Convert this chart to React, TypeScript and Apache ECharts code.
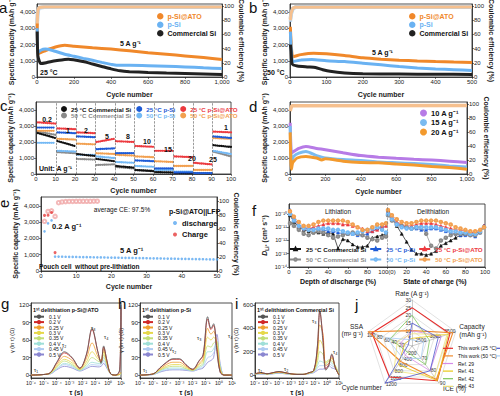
import React, { useEffect, useRef } from "react";
import * as echarts from "echarts";

const FONT = "'Liberation Sans', Arial, Helvetica, sans-serif";

// ---------------- panel a : 25 °C, 5 A g-1 ----------------
const aATO = [[1, 3300], [5, 1450], [20, 1500], [50, 1650], [100, 1850], [150, 1950], [200, 1900], [300, 1800], [400, 1720], [500, 1620], [600, 1500], [700, 1400], [800, 1300], [900, 1200], [1000, 1080]];
const aPSi = [[1, 3000], [5, 1500], [20, 1650], [45, 1720], [80, 1650], [150, 1400], [200, 1280], [250, 1150], [300, 1030], [350, 900], [400, 780], [430, 720], [500, 720], [600, 700], [700, 660], [800, 620], [900, 570], [1000, 520]];
const aCom = [[1, 2800], [5, 1300], [20, 830], [50, 880], [100, 1000], [150, 1080], [170, 1100], [250, 950], [300, 800], [350, 650], [400, 500], [450, 380], [500, 330], [600, 280], [700, 240], [800, 210], [900, 180], [1000, 150]];
const aCEATO = [[1, 72], [3, 88], [6, 95], [12, 98], [40, 98.6], [1000, 98.8]];
const aCEPSi = [[1, 68], [3, 85], [6, 93], [12, 97.5], [40, 98.5], [1000, 98.7]];
const aCECom = [[1, 75], [3, 90], [6, 96], [12, 98.2], [40, 98.6], [1000, 98.9]];

// ---------------- panel b : 50 °C, 5 A g-1 ----------------
const bATO = [[1, 3100], [3, 2200], [8, 1250], [30, 1380], [65, 1470], [100, 1430], [150, 1320], [200, 1180], [250, 1100], [300, 1040], [350, 990], [400, 950], [450, 920], [500, 900]];
const bPSi = [[1, 2800], [3, 1900], [8, 950], [30, 1050], [60, 1080], [100, 1000], [150, 950], [200, 850], [250, 750], [300, 650], [350, 560], [400, 500], [450, 450], [500, 400]];
const bCom = [[1, 2000], [3, 1600], [6, 800], [20, 680], [50, 620], [70, 580], [90, 450], [110, 350], [150, 250], [200, 200], [300, 180], [400, 170], [500, 160]];
const bCEATO = [[1, 80], [3, 90], [8, 97], [15, 98.5], [500, 98.8]];
const bCEPSi = [[1, 78], [3, 88], [8, 96], [15, 98.3], [500, 98.6]];
const bCECom = [[1, 82], [3, 91], [8, 97], [15, 98.6], [500, 98.9]];

// ---------------- panel c : rate capability ----------------
const cSegStart = [1, 11, 21, 31, 41, 51, 61, 71, 81, 91];
const cRates = ["0.2", "1", "2", "5", "8", "10", "15", "20", "25", "1"];
const c25Com = [[2560, 2250], [2060, 1750], [1250, 1130], [940, 800], [500, 400], [250, 180], [120, 90], [60, 40], [30, 20], [1800, 1690]];
const c50Com = [[2650, 2450], [1370, 1300], [940, 900], [560, 600], [440, 350], [250, 200], [100, 90], [50, 40], [30, 20], [1400, 1100]];
const c25PSi = [[2900, 2900], [2600, 2550], [2350, 2300], [1550, 1600], [1300, 1300], [850, 800], [350, 350], [100, 100], [50, 50], [2350, 2250]];
const c50PSi = [[1950, 1950], [1450, 1400], [1200, 1200], [1100, 1000], [750, 700], [500, 450], [250, 250], [150, 150], [50, 50], [1450, 1250]];
const c25ATO = [[3230, 3150], [2850, 2800], [2600, 2550], [2000, 2200], [2050, 2000], [1750, 1700], [1450, 1450], [1100, 1050], [700, 600], [2650, 2600]];
const c50ATO = [[2700, 2700], [2200, 2150], [1900, 1850], [1300, 1250], [1200, 1150], [1100, 1050], [800, 750], [500, 500], [250, 250], [2250, 2200]];

// ---------------- panel d : high rate, 1000 cycles ----------------
const d10 = [[1, 3200], [3, 2400], [8, 1300], [20, 1400], [50, 1600], [90, 1720], [150, 1600], [200, 1520], [300, 1330], [400, 1150], [500, 1050], [600, 980], [700, 920], [800, 870], [900, 800], [1000, 720]];
const d15 = [[1, 3000], [3, 2000], [8, 800], [20, 1100], [50, 1300], [90, 1400], [150, 1150], [200, 1000], [300, 900], [400, 850], [500, 750], [600, 700], [700, 650], [800, 600], [900, 500], [1000, 430]];
const d20 = [[1, 2600], [3, 1500], [8, 300], [15, 700], [40, 1000], [90, 1100], [150, 1000], [180, 880], [200, 950], [300, 800], [400, 720], [500, 700], [600, 620], [700, 560], [800, 470], [900, 400], [1000, 300]];
const dCE = [[1, 90], [4, 93], [10, 97.5], [1000, 98]];

// ---------------- panel e : pouch full cell ----------------
const eDis = [2440, 2930, 3110, 885, 884, 879, 876, 871, 868, 863, 860, 855, 852, 848, 845, 840, 836, 833, 829, 824, 821, 817, 813, 810, 805, 802, 798, 794, 791, 786, 783, 779, 775, 771, 768, 763, 760, 756, 752, 749, 744, 741, 737, 733, 730, 725, 722, 718, 714, 710];
const eCha = [3420, 3430, 3600, 1130];
const eCE = [71, 85, 86, 78, 97.5, 98.6, 99.1, 99.3, 99.4, 99.5, 99.5, 99.6, 99.6, 99.6, 99.7, 99.7];

// ---------------- panel f : GITT diffusion coefficient (log10) ----------------
const fPos = [1, 5, 10, 15, 20, 25, 30, 35, 40, 45, 50, 55, 60, 65, 70, 75, 80, 85, 90, 95, 99];
const fLith = {
  c25: [-10.1, -10.6, -11.0, -11.2, -11.3, -11.4, -11.4, -11.5, -11.4, -11.5, -12.6, -11.9, -12.0, -12.3, -12.5, -12.5, -12.4, -11.8, -11.7, -11.6, -11.5],
  c50: [-10.7, -10.9, -11.2, -11.5, -11.6, -11.4, -11.3, -11.4, -11.6, -11.8, -11.7, -11.6, -11.5, -11.4, -11.5, -11.6, -11.8, -11.9, -12.0, -11.8, -11.7],
  p25: [-9.7, -10.3, -10.8, -11.0, -11.1, -11.1, -11.2, -11.2, -11.3, -11.3, -11.4, -11.5, -11.5, -11.5, -11.6, -11.6, -11.5, -11.3, -11.1, -10.9, -10.7],
  p50: [-10.0, -10.5, -10.9, -11.1, -11.2, -11.2, -11.1, -11.1, -11.1, -11.2, -11.2, -11.3, -11.4, -11.5, -11.4, -11.3, -11.2, -11.1, -11.0, -11.2, -11.4],
  a25: [-9.8, -10.4, -10.9, -11.1, -11.1, -11.0, -10.9, -10.8, -10.7, -10.7, -10.7, -10.8, -10.8, -10.9, -11.0, -11.1, -11.3, -11.3, -11.2, -11.0, -10.9],
  a50: [-9.8, -10.2, -10.6, -10.9, -10.9, -10.8, -10.6, -10.5, -10.5, -10.5, -10.5, -10.5, -10.6, -10.8, -11.0, -11.2, -11.2, -11.0, -10.8, -10.8, -10.7],
};
const fDeli = {
  c25: [-9.7, -10.3, -10.9, -11.5, -12.1, -12.7, -13.0, -13.0, -13.1, -13.0, -12.8, -12.4, -12.2, -12.0, -11.8, -11.6, -11.5, -11.4, -11.5, -11.3, -10.9],
  c50: [-10.1, -10.5, -10.8, -10.9, -11.0, -11.1, -11.0, -11.0, -11.5, -12.4, -12.6, -12.0, -11.8, -11.6, -11.5, -11.5, -11.5, -11.6, -11.6, -11.4, -11.0],
  p25: [-9.8, -10.3, -10.7, -10.9, -11.0, -11.1, -11.1, -11.2, -11.2, -11.1, -11.1, -11.2, -11.3, -11.4, -11.5, -11.6, -11.6, -11.6, -11.7, -11.4, -10.9],
  p50: [-10.0, -10.4, -10.8, -11.0, -11.1, -11.1, -11.0, -11.0, -11.0, -11.0, -11.0, -11.1, -11.2, -11.3, -11.3, -11.4, -11.4, -11.5, -11.5, -11.3, -11.0],
  a25: [-9.8, -10.2, -10.6, -10.8, -10.9, -10.9, -10.8, -10.7, -10.7, -10.7, -10.8, -10.9, -11.0, -11.1, -11.2, -11.2, -11.3, -11.4, -11.4, -11.2, -10.9],
  a50: [-9.7, -10.1, -10.4, -10.6, -10.7, -10.7, -10.6, -10.5, -10.5, -10.5, -10.5, -10.6, -10.7, -10.8, -11.0, -11.1, -11.2, -11.3, -11.3, -11.2, -11.0],
};
const fTicks = [-14, -13, -12, -11, -10];

// ---------------- panels g, h, i : DRT (x = log10 tau) ----------------
const voltages = ["0.1 V", "0.2 V", "0.25 V", "0.3 V", "0.35 V", "0.4 V", "0.45 V", "0.5 V"];
const gX = [-6, -5, -4.5, -4, -3.4, -2.8, -2.2, -1.7, -1.25, -0.8, -0.55, -0.35, -0.1, 0.2, 0.6, 0.9, 1.0];
const gY = [
  [0, 1, 4, 22, 40, 30, 12, 35, 80, 40, 20, 50, 25, 2, 0, 10, 120],
  [0, 1, 4, 21, 38, 29, 12, 34, 78, 40, 22, 48, 26, 2, 0, 8, 116],
  [0, 1, 4, 18, 32, 25, 11, 28, 55, 32, 25, 45, 22, 2, 0, 2, 5],
  [0, 1, 3, 15, 27, 21, 10, 22, 40, 28, 25, 40, 20, 2, 0, 1, 3],
  [0, 1, 3, 13, 24, 18, 9, 18, 30, 24, 22, 35, 18, 2, 0, 1, 2],
  [0, 1, 3, 11, 20, 16, 8, 15, 22, 20, 20, 30, 16, 2, 0, 1, 2],
  [0, 1, 2, 10, 18, 14, 8, 13, 18, 17, 18, 25, 14, 2, 0, 1, 2],
  [0, 1, 2, 9, 15, 12, 7, 11, 15, 14, 15, 20, 12, 2, 0, 1, 2],
];
const hX = [-6, -5, -4.5, -4, -3.5, -3, -2.5, -2, -1.5, -1.2, -0.85, -0.6, -0.4, -0.15, 0.1, 0.4, 0.7, 1.0];
const hY = [
  [0, 2, 12, 22, 28, 28, 18, 10, 25, 35, 100, 80, 88, 40, 5, 0, 0, 0],
  [0, 2, 12, 21, 27, 27, 17, 10, 24, 34, 96, 78, 85, 45, 5, 0, 0, 0],
  [0, 2, 10, 18, 22, 22, 15, 9, 20, 28, 80, 70, 75, 50, 8, 0, 0, 0],
  [0, 2, 9, 15, 18, 18, 13, 9, 18, 24, 65, 60, 65, 55, 10, 0, 0, 0],
  [0, 2, 8, 13, 15, 15, 11, 8, 15, 20, 50, 48, 55, 58, 12, 0, 0, 0],
  [0, 1, 7, 11, 12, 12, 10, 8, 13, 17, 40, 40, 45, 55, 15, 0, 0, 0],
  [0, 1, 6, 9, 10, 10, 9, 7, 11, 14, 30, 32, 38, 50, 18, 0, 0, 0],
  [0, 1, 5, 8, 9, 9, 8, 7, 10, 12, 22, 25, 30, 70, 20, 0, 0, 0],
];
const iX = [-6, -5.5, -5, -4.5, -4, -3.5, -3, -2.5, -2, -1.5, -1.1, -0.8, -0.6, -0.35, -0.1, 0.15, 0.4, 0.7, 1.0];
const iY = [
  [10, 20, 10, 20, 30, 20, 10, 5, 5, 20, 40, 250, 560, 300, 40, 80, 180, 60, 0],
  [10, 20, 10, 20, 28, 20, 10, 5, 5, 20, 40, 240, 540, 340, 50, 90, 170, 60, 0],
  [10, 18, 10, 18, 26, 18, 10, 5, 5, 18, 38, 200, 430, 360, 80, 100, 150, 60, 0],
  [8, 15, 9, 16, 24, 16, 9, 5, 5, 16, 35, 150, 300, 250, 100, 120, 140, 70, 0],
  [8, 14, 8, 15, 22, 15, 8, 5, 5, 15, 32, 110, 200, 180, 110, 130, 120, 80, 0],
  [6, 12, 7, 13, 20, 13, 7, 5, 5, 13, 28, 80, 120, 110, 90, 120, 100, 70, 0],
  [6, 10, 6, 12, 18, 12, 6, 5, 5, 12, 25, 60, 80, 80, 80, 100, 80, 60, 0],
  [5, 8, 5, 10, 15, 10, 5, 5, 5, 10, 20, 40, 50, 50, 60, 80, 60, 50, 0],
];

// ---------------- panel j : radar comparison ----------------
const radarAxes = ["Rate (A g⁻¹)", "SSA\n(m² g⁻¹)", "Cycle number", "ICE (%)", "Capacity\n(mAh g⁻¹)"];
const radarMin = [0, 0, 0, 60, 2000];
const radarMax = [30, 120, 1200, 90, 3500];
const radarNames = ["This work (25 °C)", "This work (50 °C)", "Ref. 29", "Ref. 41", "Ref. 42", "Ref. 43", "Ref. 44", "Ref. 45"];
const radarValues = [
  [25, 110, 1000, 88, 3300],
  [10, 120, 500, 87, 3400],
  [10, 30, 300, 80, 3000],
  [5, 20, 600, 88, 3250],
  [20, 60, 200, 75, 2600],
  [8, 40, 800, 85, 3200],
  [15, 10, 1200, 80, 2900],
  [4, 70, 400, 70, 2400],
];

// ---------------- colours ----------------
const C_ATO = "#F0882A", C_PSI = "#6AB2F2", C_COM = "#222222";
const CE_ATO = "#F6C08E", CE_PSI = "#B9DAF7", CE_COM = "#AFAFAF";
const C6 = { c25: "#111111", c50: "#8A8A8A", p25: "#1E5BD6", p50: "#74B9F5", a25: "#EC3A3F", a50: "#F2A050" };
const VCOL = ["#555555", "#D02828", "#F0A030", "#E6D84A", "#C2DE76", "#9FDFD8", "#AFCBF2", "#8A86D0"];
const RCOL = ["#E52B2B", "#F08A2C", "#D58BE8", "#E8C817", "#7CC65A", "#F0E27A", "#4D55CF", "#A8CCF2"];

const LABEL6: Record<string, string> = {
  c25: "25 °C Commercial Si", p25: "25 °C p-Si", a25: "25 °C p-Si@ATO",
  c50: "50 °C Commercial Si", p50: "50 °C p-Si", a50: "50 °C p-Si@ATO",
};

const SUP: Record<string, string> = { "-": "⁻", "0": "⁰", "1": "¹", "2": "²", "3": "³", "4": "⁴", "5": "⁵", "6": "⁶", "7": "⁷", "8": "⁸", "9": "⁹" };
const sup = (n: number) => String(n).split("").map((c) => SUP[c] ?? c).join("");

const AX = "#222";

function axisBase(fs = 6) {
  return {
    axisLine: { show: true, onZero: false, lineStyle: { color: AX, width: 0.8 } },
    axisTick: { show: true, length: 2, lineStyle: { color: AX, width: 0.6 } },
    axisLabel: { fontSize: fs, color: AX, margin: 2, fontFamily: FONT } as any,
    splitLine: { show: false },
    nameTextStyle: { fontSize: 7, fontWeight: "bold", color: AX, fontFamily: FONT } as any,
    nameLocation: "middle",
  };
}

function xA(gridIndex: number, min: number, max: number, interval: number, name: string, nameGap: number, lab: any = {}) {
  const b = axisBase(lab.fontSize ?? 6);
  return { ...b, type: "value", gridIndex, min, max, interval, name, nameGap, axisLabel: { ...b.axisLabel, ...lab } };
}

function yA(gridIndex: number, min: number, max: number, ticks: number[], name: string, nameGap: number, extra: any = {}) {
  const b = axisBase(6);
  return {
    ...b, type: "value", gridIndex, min, max, name, nameGap,
    position: extra.position ?? "left",
    nameRotate: extra.nameRotate,
    axisLabel: { ...b.axisLabel, customValues: ticks, ...(extra.lab ?? {}) },
    axisTick: { ...b.axisTick, customValues: ticks },
    nameTextStyle: { ...b.nameTextStyle, ...(extra.nameStyle ?? {}) },
  };
}

function ln(name: string, data: any[], color: string, xi: number, yi: number, o: any = {}) {
  return {
    type: "line", name, data, xAxisIndex: xi, yAxisIndex: yi,
    showSymbol: !!o.symbol, symbol: o.symbol ?? "circle", symbolSize: o.symbolSize ?? 3,
    lineStyle: { color, width: o.width ?? 1, type: o.dash ?? "solid", cap: o.cap ?? "butt" },
    itemStyle: { color, borderColor: color, borderWidth: 0.6 },
    smooth: o.smooth ?? false, z: o.z ?? 2, silent: true, connectNulls: false,
    markLine: o.markLine,
  };
}

function T(text: string, x: number, y: number, size = 7, o: any = {}) {
  return {
    type: "text", x, y, silent: true, rotation: o.rot ?? 0, z: 100,
    style: {
      text, fontSize: size, fontFamily: FONT, fill: o.color ?? "#111",
      fontWeight: o.bold ? "bold" : "normal", fontStyle: o.italic ? "italic" : "normal",
      align: o.align ?? "left", verticalAlign: "middle",
    },
  };
}

function buildOption(): any {
  const grids = [
    { left: 37, top: 4, width: 185, height: 73 }, // a
    { left: 290, top: 4, width: 182, height: 73 }, // b
    { left: 36, top: 102, width: 195, height: 72 }, // c
    { left: 290, top: 102, width: 177, height: 72 }, // d
    { left: 41, top: 197, width: 176, height: 74 }, // e
    { left: 289, top: 204, width: 196, height: 63 }, // f
    { left: 31, top: 303, width: 90, height: 75 }, // g
    { left: 140, top: 303, width: 92, height: 75 }, // h
    { left: 255, top: 303, width: 84, height: 75 }, // i
  ].map((g) => ({ ...g, show: true, borderColor: "#222", borderWidth: 0.8, backgroundColor: "transparent", containLabel: false, outerBoundsMode: "none" }));

  const capTicks = [0, 1000, 2000, 3000, 4000];
  const ceTicks = [0, 20, 40, 60, 80, 100];
  const capName = "Specific capacity (mAh g⁻¹)";
  const ceName = "Coulombic efficiency (%)";
  const logLab = { formatter: (v: number) => "10" + sup(v), fontSize: 5.2 };

  const xAxis = [
    xA(0, 0, 1000, 200, "Cycle number", 14),
    xA(1, 0, 500, 100, "Cycle number", 14),
    xA(2, 0, 100, 10, "Cycle number", 13),
    xA(3, 0, 1000, 200, "Cycle number", 14),
    xA(4, 0, 50, 10, "Cycle number", 12),
    xA(5, 0, 200, 20, "", 12, { formatter: (v: number) => (v < 100 ? String(v) : v === 100 ? "100(0)" : String(v - 100)) }),
    xA(6, -6, 1, 1, "τ (s)", 11, logLab),
    xA(7, -6, 1, 1, "τ (s)", 11, logLab),
    xA(8, -6, 1, 1, "τ (s)", 11, logLab),
  ];

  const yAxis = [
    yA(0, 0, 4500, capTicks, capName, 22),
    yA(0, 0, 103, ceTicks, ceName, 14, { position: "right", nameRotate: -90 }),
    yA(1, 0, 4500, capTicks, capName, 22),
    yA(1, 0, 103, ceTicks, ceName, 14, { position: "right", nameRotate: -90 }),
    yA(2, 0, 4500, capTicks, capName, 22),
    yA(3, 0, 4500, capTicks, capName, 22),
    yA(3, 0, 103, ceTicks, ceName, 14, { position: "right", nameRotate: -90 }),
    yA(4, 0, 4550, capTicks, capName, 22),
    yA(4, 0, 105.7, ceTicks, ceName, 14, { position: "right", nameRotate: -90 }),
    yA(5, -14, -9.25, fTicks, "{d|D}{s|Li⁺} (cm² s⁻¹)", 20, {
      lab: { formatter: (v: number) => "10" + sup(v), fontSize: 5.5 },
      nameStyle: { rich: { d: { fontSize: 7, fontStyle: "italic", fontWeight: "bold", fontFamily: FONT }, s: { fontSize: 5, fontWeight: "bold", fontFamily: FONT, padding: [4, 0, 0, 0] } } },
    }),
    yA(6, -5, 123.5, [0, 30, 60, 90, 120], "γ (ln τ) (Ω)", 12, { nameStyle: { fontSize: 5.5, fontWeight: "normal" } }),
    yA(7, -5, 123.5, [0, 30, 60, 90, 120], "γ (ln τ) (Ω)", 12, { nameStyle: { fontSize: 5.5, fontWeight: "normal" } }),
    yA(8, -26, 617, [0, 200, 400, 600], "γ (ln τ) (Ω)", 12, { nameStyle: { fontSize: 5.5, fontWeight: "normal" } }),
  ];

  const series: any[] = [];

  // a
  series.push(ln("CE com a", aCECom, CE_COM, 0, 1, { width: 3.5 }));
  series.push(ln("CE psi a", aCEPSi, CE_PSI, 0, 1, { width: 3.5 }));
  series.push(ln("CE ato a", aCEATO, CE_ATO, 0, 1, { width: 3 }));
  series.push(ln("p-Si@ATO", aATO, C_ATO, 0, 0, { width: 3, smooth: 0.2 }));
  series.push(ln("p-Si", aPSi, C_PSI, 0, 0, { width: 3, smooth: 0.2 }));
  series.push(ln("Commercial Si", aCom, C_COM, 0, 0, { width: 3, smooth: 0.2 }));
  // b
  series.push(ln("CE com b", bCECom, CE_COM, 1, 3, { width: 3.5 }));
  series.push(ln("CE psi b", bCEPSi, CE_PSI, 1, 3, { width: 3.5 }));
  series.push(ln("CE ato b", bCEATO, CE_ATO, 1, 3, { width: 3 }));
  series.push(ln("p-Si@ATO", bATO, C_ATO, 1, 2, { width: 3, smooth: 0.2 }));
  series.push(ln("p-Si", bPSi, C_PSI, 1, 2, { width: 3, smooth: 0.2 }));
  series.push(ln("Commercial Si", bCom, C_COM, 1, 2, { width: 3, smooth: 0.2 }));
  // c
  const segData = (segs: number[][]) =>
    segs.flatMap((s, k) => [[cSegStart[k], s[0]], [cSegStart[k] + 9, s[1]], [cSegStart[k] + 9.5, "-"]]);
  const cSets: [string, number[][]][] = [["c50", c50Com], ["p50", c50PSi], ["a50", c50ATO], ["c25", c25Com], ["p25", c25PSi], ["a25", c25ATO]];
  cSets.forEach(([k, segs], idx) => {
    series.push(ln("c_" + k, segData(segs), (C6 as any)[k], 2, 4, {
      width: 2.3, dash: [0.01, 1.94], cap: "round",
      markLine: idx === 0 ? {
        silent: true, symbol: ["none", "none"], label: { show: false },
        lineStyle: { type: "dashed", color: "#555", width: 0.6 },
        data: cSegStart.slice(1).map((s) => ({ xAxis: s - 0.5 })),
      } : undefined,
    }));
  });
  // d
  series.push(ln("CE d", dCE, CE_ATO, 3, 6, { width: 3.5 }));
  series.push(ln("10 A g⁻¹", d10, "#B77BE6", 3, 5, { width: 3, smooth: 0.2 }));
  series.push(ln("15 A g⁻¹", d15, "#7BBBF0", 3, 5, { width: 3, smooth: 0.2 }));
  series.push(ln("20 A g⁻¹", d20, "#F39A2E", 3, 5, { width: 3, smooth: 0.2 }));
  // e
  series.push({
    type: "scatter", name: "CE e", xAxisIndex: 4, yAxisIndex: 8, silent: true,
    data: eCE.map((v, i) => [i + 1, v]), symbol: "emptyCircle", symbolSize: 3.5,
    itemStyle: { color: "#F0A8A8", borderColor: "#E89A9A", borderWidth: 0.6 },
  });
  series.push({
    type: "scatter", name: "Charge", xAxisIndex: 4, yAxisIndex: 7, silent: true,
    data: eCha.map((v, i) => [i + 1, v]), symbol: "circle", symbolSize: 3, itemStyle: { color: "#E63C3C" },
  });
  series.push({
    type: "scatter", name: "discharge", xAxisIndex: 4, yAxisIndex: 7, silent: true,
    data: eDis.map((v, i) => [i + 1, v]), symbol: "circle", symbolSize: 2.6, itemStyle: { color: "#5AA8F0" },
  });
  // f
  (["c25", "p25", "a25", "c50", "p50", "a50"] as const).forEach((k, idx) => {
    const lith = fLith[k].map((v, i) => [fPos[i], v]);
    const deli = fDeli[k].map((v, i) => [100 + fPos[i], v]);
    const is25 = k.endsWith("25");
    series.push(ln("f_" + k, [...lith, [100, "-"], ...deli], (C6 as any)[k], 5, 9, {
      width: 0.7, symbol: is25 ? "triangle" : "emptyCircle", symbolSize: is25 ? 3 : 2.5,
      markLine: idx === 0 ? {
        silent: true, symbol: ["none", "none"], label: { show: false },
        lineStyle: { type: "dashed", color: "#777", width: 0.6 }, data: [{ xAxis: 100 }],
      } : undefined,
    }));
  });
  // g h i
  const drt = (X: number[], Y: number[][], xi: number, yi: number) =>
    Y.forEach((ys, k) => series.push(ln(voltages[k], ys.map((v, i) => [X[i], v]), VCOL[k], xi, yi, { width: 0.8, smooth: 0.35, z: 10 - k })));
  drt(gX, gY, 6, 10);
  drt(hX, hY, 7, 11);
  drt(iX, iY, 8, 12);
  // j
  series.push({
    type: "radar", radarIndex: 0, silent: true, symbol: "none",
    data: radarValues.map((v, k) => ({
      name: radarNames[k], value: v,
      lineStyle: { color: RCOL[k], width: k < 2 ? 1.1 : 0.8 }, itemStyle: { color: RCOL[k] },
    })),
  });

  const legBase = { selectedMode: false, padding: 0, textStyle: { fontFamily: FONT } };
  const legend = [
    {
      ...legBase, orient: "vertical", left: 157, top: 12, itemGap: 0, itemWidth: 4.5, itemHeight: 4.5, icon: "circle",
      textStyle: { fontSize: 7, fontWeight: "bold", lineHeight: 8.5, fontFamily: FONT },
      data: [{ name: "p-Si@ATO", textStyle: { color: C_ATO } }, { name: "p-Si", textStyle: { color: C_PSI } }, { name: "Commercial Si", textStyle: { color: "#111" } }],
    },
    {
      ...legBase, orient: "vertical", left: 409, top: 12, itemGap: 0, itemWidth: 4.5, itemHeight: 4.5, icon: "circle",
      textStyle: { fontSize: 7, fontWeight: "bold", lineHeight: 8.5, fontFamily: FONT },
      data: [{ name: "p-Si@ATO", textStyle: { color: C_ATO } }, { name: "p-Si", textStyle: { color: C_PSI } }, { name: "Commercial Si", textStyle: { color: "#111" } }],
    },
    ...[["c25", "p25", "a25"], ["c50", "p50", "a50"]].map((row, r) => ({
      ...legBase, orient: "horizontal", left: 61, top: 106 + r * 6.5, itemGap: 5, itemWidth: 4, itemHeight: 4, icon: "circle",
      textStyle: { fontSize: 6.2, fontWeight: "bold", lineHeight: 6, fontFamily: FONT },
      formatter: (n: string) => LABEL6[n.slice(2)],
      data: row.map((k) => ({ name: "c_" + k, textStyle: { color: (C6 as any)[k] } })),
    })),
    {
      ...legBase, orient: "vertical", left: 420, top: 109, itemGap: 1.5, itemWidth: 5, itemHeight: 5, icon: "circle",
      textStyle: { fontSize: 7.5, fontWeight: "bold", lineHeight: 8, color: "#111", fontFamily: FONT },
      data: ["10 A g⁻¹", "15 A g⁻¹", "20 A g⁻¹"],
    },
    {
      ...legBase, orient: "vertical", left: 173, top: 219, itemGap: 3.5, itemWidth: 4, itemHeight: 4, icon: "circle",
      textStyle: { fontSize: 7.5, fontWeight: "bold", lineHeight: 8, color: "#111", fontFamily: FONT },
      data: ["discharge", "Charge"],
    },
    ...[["c25", "p25", "a25"], ["c50", "p50", "a50"]].map((row, r) => ({
      ...legBase, orient: "horizontal", left: 289, top: 246 + r * 10.5, itemGap: 3, itemWidth: 11, itemHeight: 3,
      textStyle: { fontSize: 6.2, fontWeight: "bold", lineHeight: 6, fontFamily: FONT },
      formatter: (n: string) => LABEL6[n.slice(2)],
      data: row.map((k) => ({ name: "f_" + k, textStyle: { color: (C6 as any)[k] } })),
    })),
    ...[33, 142, 257].map((left) => ({
      ...legBase, orient: "vertical", left, top: 314, itemGap: 0, itemWidth: 10, itemHeight: 3,
      textStyle: { fontSize: 5, lineHeight: 5.4, color: "#111", fontFamily: FONT },
      data: voltages,
    })),
    {
      ...legBase, orient: "vertical", left: 443, top: 344.5, itemGap: 0, itemWidth: 10, itemHeight: 1.2, icon: "rect",
      textStyle: { fontSize: 5, lineHeight: 7.6, color: "#111", fontFamily: FONT },
      data: radarNames,
    },
  ];

  const radar = {
    center: [412, 346], radius: 46, startAngle: 90, splitNumber: 6, shape: "polygon",
    indicator: radarAxes.map((name, k) => ({ name, min: radarMin[k], max: radarMax[k] })),
    axisName: { color: "#222", fontSize: 6.5, fontFamily: FONT, lineHeight: 7.5 },
    nameGap: 3,
    splitLine: { lineStyle: { color: "#c4c4c4", width: 0.5 } },
    splitArea: { show: false },
    axisLine: { lineStyle: { color: "#9a9a9a", width: 0.5 } },
    axisTick: { show: false },
    axisLabel: {
      show: true, fontSize: 5, color: "#333", fontFamily: FONT, margin: 1,
      formatter: (v: number, idx: number) => (idx === 0 || [2250, 2750, 3250, 65, 75, 85].includes(v) ? "" : String(v)),
    },
  };

  const graphic = [
    T("a", -1, 7, 15),
    T("b", 249, 7, 15),
    T("c", 0, 105, 15),
    T("d", 249, 106, 15),
    T("e", 3, 208, 15, { rot: Math.PI / 2 }),
    T("f", 252, 210, 15),
    T("g", 1, 303, 15),
    T("h", 118, 303, 15),
    T("i", 235, 303, 15),
    T("j", 355, 304, 15),
    // a
    T("5 A g⁻¹", 120, 43, 7, { bold: true }),
    T("25 °C", 40, 72, 7, { bold: true }),
    // b
    T("5 A g⁻¹", 372, 52, 7, { bold: true }),
    T("50 °C", 267, 72, 7, { bold: true }),
    // c
    T(cRates[0], 47, 119, 7, { bold: true, align: "center" }),
    T(cRates[1], 68, 130, 7, { bold: true, align: "center" }),
    T(cRates[2], 86, 130, 7, { bold: true, align: "center" }),
    T(cRates[3], 107, 136, 7, { bold: true, align: "center" }),
    T(cRates[4], 128, 136, 7, { bold: true, align: "center" }),
    T(cRates[5], 147, 141, 7, { bold: true, align: "center" }),
    T(cRates[6], 168, 149, 7, { bold: true, align: "center" }),
    T(cRates[7], 192, 158, 7, { bold: true, align: "center" }),
    T(cRates[8], 213, 159, 7, { bold: true, align: "center" }),
    T(cRates[9], 226, 127, 7, { bold: true, align: "center" }),
    T("Unit: A g⁻¹", 39, 168, 7, { bold: true }),
    // e
    T("average CE: 97.5%", 122, 209, 6.5, { align: "center" }),
    T("p-Si@ATO||LFP", 169, 211, 7, { bold: true }),
    T("0.2 A g⁻¹", 52, 226, 7.5, { bold: true }),
    T("5 A g⁻¹", 120, 250, 7.5, { bold: true }),
    T("Pouch cell  without pre-lithiation", 39, 266, 6.5, { bold: true }),
    // f
    T("Lithiation", 338, 211, 6.5, { align: "center" }),
    T("Delithiation", 433, 211, 6.5, { align: "center" }),
    T("Depth of discharge (%)", 338, 281, 7, { bold: true, align: "center" }),
    T("State of charge (%)", 435, 281, 7, { bold: true, align: "center" }),
    // g h i
    T("1ˢᵗ delithiation p-Si@ATO", 33, 310, 5.5, { bold: true }),
    T("1ˢᵗ delithiation p-Si", 142, 310, 5.5, { bold: true }),
    T("1ˢᵗ delithiation Commercial Si", 257, 310, 5.5, { bold: true }),
    T("τ₁", 34, 370, 5.5), T("τ₂", 62, 345, 5.5), T("τ₃", 91, 328, 5.5), T("τ₄", 104, 337, 5.5),
    T("τ₁", 143, 370, 5.5), T("τ₂", 172, 351, 5.5), T("τ₃", 197, 338, 5.5), T("τ₄", 228, 336, 5.5),
    T("τ₁", 258, 370, 5.5), T("τ₂", 284, 369, 5.5), T("τ₃", 312, 321, 5.5), T("τ₄", 333, 352, 5.5),
  ];

  return {
    animation: false,
    backgroundColor: "#ffffff",
    textStyle: { fontFamily: FONT },
    grid: grids, xAxis, yAxis, series, legend, radar, graphic,
  };
}

export default function App() {
  const ref = useRef<HTMLDivElement>(null);
  useEffect(() => {
    if (!ref.current) return;
    const chart = echarts.init(ref.current, undefined, { renderer: "svg" });
    chart.setOption(buildOption());
    return () => chart.dispose();
  }, []);
  return <div ref={ref} style={{ position: "absolute", left: 0, top: 0, width: 500, height: 396 }} />;
}
